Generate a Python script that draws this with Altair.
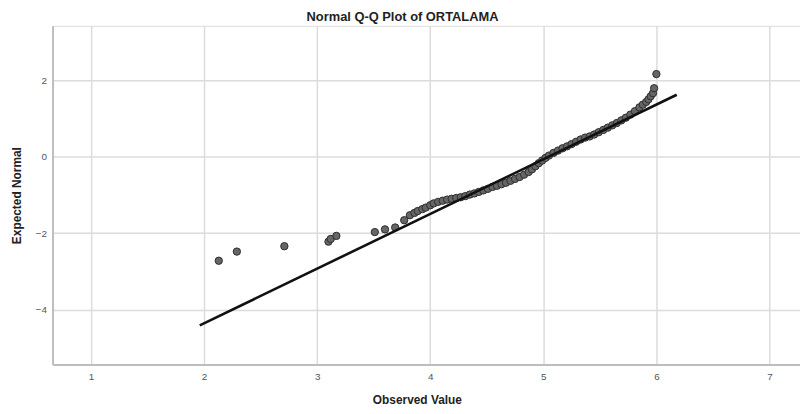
import altair as alt
import pandas as pd

obs_x = [2.13, 2.29, 2.71, 3.10, 3.12, 3.17, 3.51, 3.60, 3.69, 3.77,
         3.82, 3.86, 3.89, 3.93, 3.96, 4.00, 4.03, 4.07, 4.11, 4.15,
         4.19, 4.23, 4.27, 4.31, 4.35, 4.39, 4.43, 4.47, 4.51, 4.55,
         4.59, 4.63, 4.67, 4.71, 4.75, 4.79, 4.83, 4.87, 4.90, 4.93,
         4.96, 4.99, 5.02, 5.05, 5.09, 5.13, 5.17, 5.21, 5.25, 5.29,
         5.33, 5.37, 5.41, 5.45, 5.49, 5.53, 5.57, 5.61, 5.65, 5.69,
         5.73, 5.77, 5.81, 5.85, 5.88, 5.91, 5.93, 5.95, 5.97, 5.98, 6.00]
exp_y = [-2.72, -2.48, -2.34, -2.22, -2.15, -2.07, -1.97, -1.90, -1.85, -1.66,
         -1.53, -1.47, -1.42, -1.37, -1.33, -1.27, -1.22, -1.18, -1.15, -1.12,
         -1.10, -1.08, -1.06, -1.03, -0.99, -0.96, -0.92, -0.88, -0.84, -0.79,
         -0.76, -0.72, -0.68, -0.63, -0.58, -0.53, -0.47, -0.40, -0.33, -0.25,
         -0.17, -0.10, -0.03, 0.03, 0.10, 0.16, 0.22, 0.27, 0.33, 0.39,
         0.45, 0.50, 0.53, 0.58, 0.64, 0.70, 0.76, 0.82, 0.88, 0.95,
         1.02, 1.10, 1.19, 1.29, 1.36, 1.43, 1.50, 1.58, 1.66, 1.79, 2.16]

# Reference line end points
line_x = [1.962, 6.18]
line_y = [-4.41, 1.62]

x_ticks = [1, 2, 3, 4, 5, 6, 7]
y_ticks = [-4, -2, 0, 2]

pts = pd.DataFrame({"x": obs_x, "y": exp_y})
ln = pd.DataFrame({"x": line_x, "y": line_y})

FONT = "Liberation Sans"
xscale = alt.Scale(domain=[0.66, 7.27], nice=False, zero=False)
yscale = alt.Scale(domain=[-5.43, 3.42], nice=False, zero=False)

xaxis = alt.Axis(values=x_ticks, title="Observed Value", grid=True,
                 gridColor="#dcdcdc", gridWidth=1.5,
                 domainColor="#bdbdbd", domainWidth=2, ticks=False,
                 labelPadding=7, labelFontSize=10, labelColor="#555",
                 labelFont=FONT, titleFont=FONT, titleFontSize=12,
                 titleFontWeight="bold", titleColor="#222",
                 titleX=368, titleY=35, titleBaseline="middle", titleAlign="center")
yaxis = alt.Axis(values=y_ticks, title="Expected Normal", grid=True,
                 gridColor="#dcdcdc", gridWidth=1.5,
                 domainColor="#bdbdbd", domainWidth=2, ticks=False,
                 labelPadding=6, labelFontSize=10, labelColor="#555",
                 labelFont=FONT, titleFont=FONT, titleFontSize=12,
                 titleFontWeight="bold", titleColor="#222",
                 titleX=-36, titleY=171, titleAngle=270,
                 titleBaseline="middle", titleAlign="center")

points = alt.Chart(pts).mark_point(
    filled=True, shape="circle", size=55, fill="#666666",
    stroke="#2e2e2e", strokeWidth=1, opacity=1
).encode(
    x=alt.X("x:Q", scale=xscale, axis=xaxis),
    y=alt.Y("y:Q", scale=yscale, axis=yaxis),
)

line = alt.Chart(ln).mark_line(color="#111", strokeWidth=2.6).encode(
    x=alt.X("x:Q", scale=xscale, axis=xaxis),
    y=alt.Y("y:Q", scale=yscale, axis=yaxis),
)

chart = alt.layer(points, line).properties(
    width=755, height=342,
    autosize=alt.AutoSizeParams(type="none"),
    padding={"left": 45, "top": 16, "right": 0, "bottom": 46},
    title=alt.Title("Normal Q-Q Plot of ORTALAMA", font=FONT, fontSize=13,
                    fontWeight="bold", color="#222", dx=-24, offset=2),
).configure_view(stroke=None).configure(background="white")

chart.save("out.html", embed_options={"renderer": "svg", "actions": False})
